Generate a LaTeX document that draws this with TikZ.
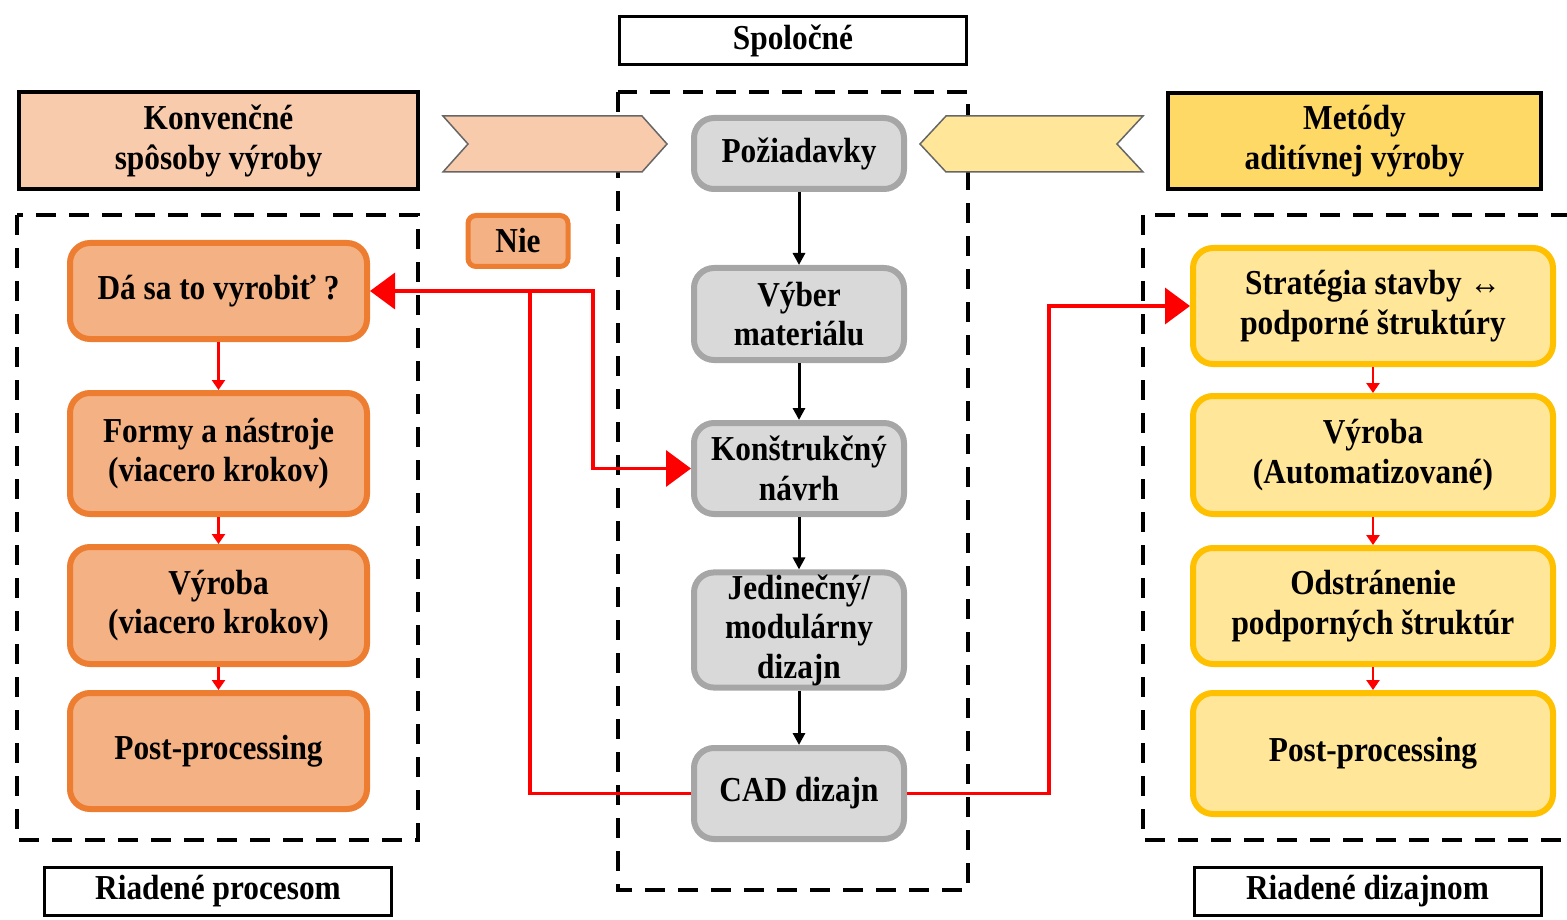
\documentclass[tikz,border=0pt]{standalone}
\usepackage{fontspec}
\setmainfont[FakeStretch=0.895]{Liberation Serif}
\usetikzlibrary{arrows.meta}
\definecolor{convhead}{HTML}{F8CBAD}
\definecolor{convfill}{HTML}{F4B183}
\definecolor{convline}{HTML}{ED7D31}
\definecolor{addhead}{HTML}{FFD966}
\definecolor{addfill}{HTML}{FFE699}
\definecolor{addline}{HTML}{FFC000}
\definecolor{comfill}{HTML}{D9D9D9}
\definecolor{comline}{HTML}{A6A6A6}
\definecolor{linkred}{HTML}{FF0000}

\begin{document}
\begin{tikzpicture}[x=1pt,y=-1pt,
    every node/.style={font=\bfseries\fontsize{35}{39.5}\selectfont, align=center, inner sep=2pt},
    header/.style={draw, line width=4pt},
    tagbox/.style={draw, line width=3pt, minimum width=347pt, minimum height=48pt},
    groupbox/.style={line width=4pt, dash pattern=on 20pt off 13pt},
    convbox/.style={draw=convline, fill=convfill, line width=6pt, rounded corners=20pt, minimum width=297pt},
    combox/.style={draw=comline, fill=comfill, line width=6pt, rounded corners=20pt, minimum width=210pt},
    addbox/.style={draw=addline, fill=addfill, line width=6pt, rounded corners=20pt, minimum width=360pt},
    redlink/.style={draw=linkred, line width=3.5pt, -{Triangle[length=25pt,width=36pt]}},
    redstep/.style={draw=linkred, line width=2.5pt, -{Triangle[length=10pt,width=13pt]}},
    blackstep/.style={draw=black, line width=3pt, -{Triangle[length=12pt,width=12pt]}}]
    \useasboundingbox (0,0) rectangle (1567,920);

    % dashed groups
    \draw[groupbox] (618,92) rectangle (968,890);
    \draw[groupbox] (17,215) rectangle (418,840);
    \draw[groupbox] (1143,215) rectangle (1590,840);

    % headers and tags
    \node[header, fill=convhead, minimum width=399pt, minimum height=97pt] (conv) at (218.5,141) {Konvenčné\\spôsoby výroby};
    \node[header, fill=addhead, minimum width=373pt, minimum height=96pt] (addit) at (1354.5,141) {Metódy\\aditívnej výroby};
    \node[tagbox] (common) at (793,41) {Spoločné};
    \node[tagbox] (proc) at (218,891.5) {Riadené procesom};
    \node[tagbox] (design) at (1367.5,891.5) {Riadené dizajnom};

    % chevrons
    \draw[fill=convhead, draw=gray!80!black, line width=1.5pt] (443,116) -- (642,116) -- (667,144) -- (642,172) -- (443,172) -- (468,144) -- cycle;
    \draw[fill=addfill, draw=gray!80!black, line width=1.5pt] (1143,116) -- (946,116) -- (920,144) -- (946,172) -- (1143,172) -- (1117,144) -- cycle;

    % common steps
    \node[combox, minimum height=71pt] (req) at (799,153.5) {Požiadavky};
    \node[combox, minimum height=92pt] (mat) at (799,314) {Výber\\materiálu};
    \node[combox, minimum height=91pt] (kon) at (799,468.5) {Konštrukčný\\návrh};
    \node[combox, minimum height=114pt] (mod) at (799,630) {Jedinečný/\\modulárny\\dizajn};
    \node[combox, minimum height=91pt] (cad) at (799,793.5) {CAD dizajn};

    % conventional steps
    \node[convbox, minimum height=96pt] (can) at (218.5,291) {Dá sa to vyrobiť ?};
    \node[convbox, minimum height=121pt] (tools) at (218.5,453.5) {Formy a nástroje\\(viacero krokov)};
    \node[convbox, minimum height=117pt] (cprod) at (218.5,605.5) {Výroba\\(viacero krokov)};
    \node[convbox, minimum height=116pt] (cpost) at (218.5,751) {Post-processing};
    \node[draw=convline, fill=convfill, line width=5pt, rounded corners=8pt, minimum width=100pt, minimum height=51pt] (no) at (518,241) {Nie};

    % additive steps
    \node[addbox, minimum height=116pt] (strat) at (1373,306) {Stratégia stavby ↔\\podporné štruktúry};
    \node[addbox, minimum height=118pt] (aprod) at (1373,455) {Výroba\\(Automatizované)};
    \node[addbox, minimum height=116pt] (remove) at (1373,606) {Odstránenie\\podporných štruktúr};
    \node[addbox, minimum height=121pt] (apost) at (1373,753.5) {Post-processing};

    \draw[blackstep] (req) -- (mat);
    \draw[blackstep] (mat) -- (kon);
    \draw[blackstep] (kon) -- (mod);
    \draw[blackstep] (mod) -- (cad);

    \draw[redstep] (can) -- (tools);
    \draw[redstep] (tools) -- (cprod);
    \draw[redstep] (cprod) -- (cpost);
    \draw[redstep] (strat) -- (aprod);
    \draw[redstep] (aprod) -- (remove);
    \draw[redstep] (remove) -- (apost);

    % feedback links
    \coordinate (jl) at (530,291);
    \coordinate (jr) at (593,291);
    \coordinate (jc) at (1049,793.5);
    \draw[redlink] (cad.west) -| (jl) -- (can.east);
    \draw[redlink] (jl) -- (jr) |- (kon.west);
    \draw[redlink] (cad.east) -- (jc) |- (strat.west);
\end{tikzpicture}
\end{document}
